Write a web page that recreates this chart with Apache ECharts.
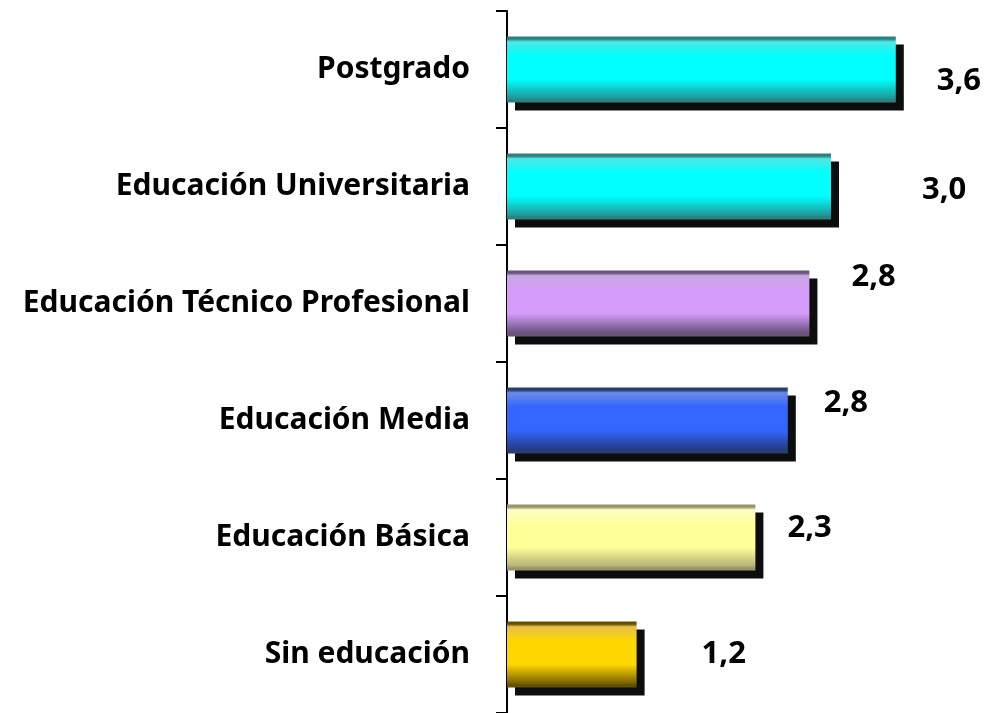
<!DOCTYPE html>
<html lang="es">
<head>
    <meta charset="UTF-8">
    <title>Educación</title>
    <style>
        html,body{margin:0;padding:0;background:#fff;}
    </style>
</head>
<body>
    <div id="app" style="width: 1001px;height:713px;"></div>
    <script src="https://cdn.jsdelivr.net/npm/echarts@6/dist/echarts.min.js"></script>
    <script>
        // de arriba hacia abajo
        const categories = ["Postgrado", "Educación Universitaria", "Educación Técnico Profesional",
            "Educación Media", "Educación Básica", "Sin educación"];
        const values = [3.6, 3.0, 2.8, 2.6, 2.3, 1.2];
        const labels = ["3,6", "3,0", "2,8", "2,8", "2,3", "1,2"];
        // desplazamiento de cada etiqueta [x, y]
        const labelOffsets = [[41, 12], [91, 4], [42, -26], [36, -17], [32, -9], [65, 0]];
        // colores: borde superior, cuerpo, borde inferior, linea
        const colors = [
            ["#50e6e6", "#00ffff", "#1f9a9a", "#2c8080"],
            ["#50e6e6", "#00ffff", "#1f9a9a", "#2c8080"],
            ["#c8a8e4", "#d59cfa", "#6e5584", "#6a5478"],
            ["#6a8ae8", "#3366ff", "#243c88", "#2a3c70"],
            ["#fffcc8", "#ffff99", "#b5b477", "#96966a"],
            ["#e6c048", "#ffd700", "#7e6400", "#645000"]
        ];

        function grad(c) {
            return new echarts.graphic.LinearGradient(0, 0, 0, 1, [
                {offset: 0, color: c[3]},
                {offset: 0.04, color: c[3]},
                {offset: 0.08, color: c[0]},
                {offset: 0.3, color: c[1]},
                {offset: 0.65, color: c[1]},
                {offset: 0.93, color: c[2]},
                {offset: 0.96, color: c[3]},
                {offset: 1, color: c[3]}
            ]);
        }

        const seriesData = values.map((v, i) => ({
            value: v,
            itemStyle: {
                color: grad(colors[i]),
                borderWidth: 0,
                shadowColor: "rgba(0,0,0,0.95)",
                shadowBlur: 0,
                shadowOffsetX: 8,
                shadowOffsetY: 8
            },
            label: {offset: labelOffsets[i]}
        }));

        const myChart = echarts.init(document.getElementById('app'));
        const options = {
            animation: false,
            grid: {left: 507, right: 8, top: 11, bottom: 0},
            xAxis: {
                type: "value",
                min: 0,
                max: 4.5,
                show: false
            },
            yAxis: {
                type: "category",
                inverse: true,
                data: categories,
                axisLine: {show: true, lineStyle: {color: "#000", width: 2}},
                axisTick: {show: true, inside: false, length: 11, lineStyle: {color: "#000", width: 2}},
                axisLabel: {
                    margin: 37,
                    color: "#000",
                    fontFamily: "Noto Sans",
                    fontWeight: "bold",
                    fontSize: 30
                }
            },
            series: [{
                type: "bar",
                barWidth: 66,
                data: seriesData,
                label: {
                    show: true,
                    position: "right",
                    distance: 0,
                    color: "#000",
                    fontFamily: "Noto Sans",
                    fontWeight: "bold",
                    fontSize: 31,
                    formatter: p => labels[p.dataIndex]
                }
            }]
        };
        myChart.setOption(options);
    </script>
</body>
</html>
